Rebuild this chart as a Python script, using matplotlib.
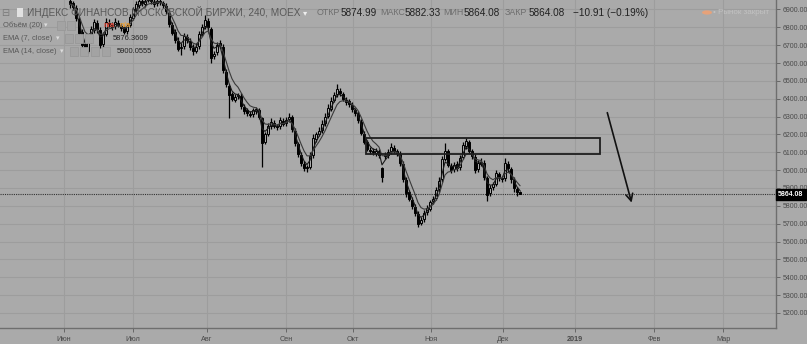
import numpy as np
import pandas as pd
import matplotlib
matplotlib.use("Agg")
import matplotlib.pyplot as plt
from matplotlib.patches import Rectangle, Circle

plt.rcParams['font.family'] = ['Liberation Sans', 'DejaVu Sans']

# ---------------- data (bars ~ one per trading day) ----------------
opens = [6950,6935,6910,6845,6775,6705,6670,6725,6785,6825,
         6785,6705,6765,6825,6815,6805,6825,6810,6800,6780,
         6815,6855,6895,6925,6950,6930,6955,6960,6940,6935,
         6945,6935,6920,6880,6815,6775,6725,6685,6695,6745,
         6725,6685,6670,6695,6765,6805,6835,6790,6640,6660,
         6710,6690,6550,6470,6425,6395,6415,6415,6355,6335,
         6315,6315,6330,6335,6290,6160,6205,6245,6265,6245,
         6245,6275,6265,6285,6295,6220,6145,6085,6035,6015,
         6020,6085,6175,6205,6225,6265,6305,6345,6395,6425,
         6445,6425,6395,6385,6365,6335,6315,6270,6205,6155,
         6115,6110,6095,6105,6010,6085,6085,6105,6125,6105,
         6090,6035,5945,5875,5835,5795,5755,5705,5725,5765,
         5785,5825,5845,5895,5950,6065,6105,6025,6005,6035,
         6015,6075,6135,6160,6105,6075,6005,6035,6040,5955,
         5870,5905,5925,5980,5955,5955,6035,6005,5945,5895,
         5874.99]
highs = [6975,6950,6925,6860,6790,6720,6740,6810,6845,6840,
         6800,6775,6850,6845,6830,6850,6840,6825,6815,6825,
         6875,6915,6945,6965,6970,6975,6990,6980,6960,6970,
         6965,6950,6935,6895,6830,6790,6745,6710,6770,6760,
         6740,6705,6710,6780,6820,6870,6850,6800,6670,6720,
         6730,6705,6565,6485,6440,6425,6435,6430,6370,6350,
         6330,6350,6355,6350,6300,6215,6265,6290,6280,6260,
         6300,6290,6300,6320,6310,6235,6160,6100,6050,6030,
         6100,6200,6215,6240,6280,6320,6370,6410,6440,6480,
         6460,6440,6410,6400,6380,6350,6330,6285,6220,6170,
         6130,6125,6125,6120,6020,6100,6120,6150,6140,6120,
         6105,6050,5960,5890,5850,5810,5770,5740,5775,5805,
         5835,5855,5905,5960,6080,6150,6120,6040,6045,6050,
         6085,6160,6180,6170,6120,6090,6055,6068,6055,5970,
         5915,5935,6000,5990,5970,6068,6050,6015,5960,5905,
         5882.33]
lows = [6910,6895,6835,6755,6685,6650,6655,6710,6770,6770,
        6685,6690,6750,6800,6785,6790,6800,6780,6765,6765,
        6800,6840,6880,6910,6920,6915,6940,6930,6915,6920,
        6925,6910,6875,6800,6755,6715,6665,6645,6680,6715,
        6675,6645,6655,6680,6750,6790,6785,6600,6620,6645,
        6685,6545,6465,6290,6385,6380,6400,6345,6315,6305,
        6295,6300,6315,6285,6020,6145,6190,6230,6235,6225,
        6230,6245,6250,6270,6215,6135,6075,6025,5995,5990,
        6005,6070,6160,6190,6210,6250,6290,6330,6380,6410,
        6415,6385,6365,6355,6325,6305,6265,6195,6145,6105,
        6090,6085,6080,6070,5935,6065,6070,6090,6095,6080,
        6025,5935,5850,5825,5785,5745,5683,5690,5710,5750,
        5770,5810,5830,5880,5935,6050,6015,5985,5990,5995,
        6000,6060,6120,6095,6065,5985,5990,6025,5945,5825,
        5855,5890,5910,5940,5935,5940,5990,5930,5880,5855,
        5864.08]
closes = [6930,6915,6850,6770,6700,6665,6720,6790,6830,6790,
          6700,6760,6830,6820,6800,6830,6815,6795,6775,6810,
          6860,6900,6930,6945,6935,6950,6965,6945,6930,6950,
          6940,6925,6890,6820,6770,6730,6680,6690,6750,6730,
          6690,6665,6690,6760,6800,6840,6800,6630,6650,6700,
          6700,6560,6480,6420,6400,6410,6420,6360,6330,6320,
          6310,6335,6340,6300,6150,6200,6250,6270,6250,6240,
          6280,6260,6280,6300,6230,6150,6090,6040,6010,6010,
          6080,6180,6200,6220,6260,6300,6350,6390,6420,6455,
          6430,6400,6380,6370,6340,6320,6280,6210,6160,6120,
          6105,6100,6110,6085,5960,6080,6100,6130,6110,6095,
          6040,5950,5870,5840,5800,5760,5700,5720,5760,5790,
          5820,5840,5890,5940,6060,6110,6030,6000,6030,6010,
          6070,6140,6165,6110,6080,6000,6040,6045,5960,5860,
          5900,5920,5985,5960,5950,6040,6010,5950,5900,5875,
          5864.08]

month_labels = ['Июн', 'Июл', 'Авг', 'Сен', 'Окт', 'Ноя', 'Дек', '2019', 'Фев', 'Мар']
month_pos = [-2.0, 21.0, 45.7, 72.0, 94.3, 120.3, 144.3, 168.3, 194.7, 217.7]
price_ticks = [5200, 5300, 5400, 5500, 5600, 5700, 5800, 5900,
               6000, 6100, 6200, 6300, 6400, 6500, 6600, 6700, 6800, 6900]

last_open, last_high, last_low, last_close = 5874.99, 5882.33, 5864.08, 5864.08
change, change_pct = -10.91, -0.19
ema7_last, ema14_last = 5876.3609, 5900.0555

zone_x = [98.7, 176.7]
zone_prices = [6092, 6178]
arrow_start = (179.1, 6322)
arrow_end = (187.2, 5818)

ema_fast_span = 3   # bars here are ~2.6x longer than the 240-min bars of the source
ema_slow_span = 6

# ---------------- figure ----------------
W, H = 807, 344
BG = '#aaaaaa'
GRID = '#9d9d9d'
TXT = '#4a4a4a'
fig = plt.figure(figsize=(W / 100, H / 100), dpi=100, facecolor=BG)
ax = fig.add_axes([0, 16 / H, 776 / W, 328 / H], facecolor=BG)

n = len(closes)
xs = np.arange(n)
o = np.array(opens); h = np.array(highs); l = np.array(lows); c = np.array(closes)

ax.vlines(xs, l, h, color='black', lw=0.9, zorder=3)
up = c >= o
bw = 0.66
ax.bar(xs[up], c[up] - o[up], bottom=o[up], width=bw, facecolor=BG,
       edgecolor='black', linewidth=0.7, zorder=4)
ax.bar(xs[~up], o[~up] - c[~up], bottom=c[~up], width=bw, facecolor='black',
       edgecolor='black', linewidth=0.7, zorder=4)

ema_fast = pd.Series(c).ewm(span=ema_fast_span, adjust=False).mean()
ema_slow = pd.Series(c).ewm(span=ema_slow_span, adjust=False).mean()
ax.plot(xs, ema_fast, color='#1a1a1a', lw=0.8, zorder=5)
ax.plot(xs, ema_slow, color='#3a3a3a', lw=0.8, zorder=5)

# zone rectangle and arrow
ax.add_patch(Rectangle((zone_x[0], zone_prices[0]), zone_x[1] - zone_x[0],
                       zone_prices[1] - zone_prices[0], fill=False,
                       edgecolor='#1e1e1e', lw=1.3, zorder=6))
ax.annotate('', xy=arrow_end, xytext=arrow_start,
            arrowprops=dict(arrowstyle='->,head_length=0.5,head_width=0.25',
                            color='#111111', lw=1.2, shrinkA=0, shrinkB=0),
            zorder=6)

# last price dotted line
ax.axhline(last_close, color='#333333', lw=0.8, ls=(0, (1, 1)), zorder=2)

ax.set_xlim(-23.33, 235.33)
ax.set_ylim(5115.7, 6953.2)

ax.set_yticks(price_ticks)
ax.set_yticklabels([f'{v:.2f}' for v in price_ticks])
ax.yaxis.tick_right()
ax.set_xticks(month_pos)
ax.set_xticklabels(month_labels)
for lab in ax.get_xticklabels():
    if lab.get_text() == '2019':
        lab.set_fontweight('bold')
ax.tick_params(axis='both', colors='#666666', labelcolor=TXT, labelsize=5.0,
               length=3, width=0.7)
ax.tick_params(axis='y', pad=1.5)
ax.tick_params(axis='x', pad=3, labelsize=5.2)
ax.grid(True, color=GRID, lw=0.8, zorder=0)
ax.set_axisbelow(True)
for s in ['top', 'left']:
    ax.spines[s].set_visible(False)
for s in ['right', 'bottom']:
    ax.spines[s].set_color('#6e6e6e')
    ax.spines[s].set_linewidth(1.0)

# last price label on the scale
ax.text(1.003, last_close, f'{last_close:.2f}', transform=ax.get_yaxis_transform(),
        ha='left', va='center', fontsize=5.0, color='white', fontweight='bold',
        bbox=dict(boxstyle='square,pad=0.3', facecolor='black', edgecolor='black'),
        zorder=10, clip_on=False)

# ---------------- header texts ----------------
def fx(x):
    return x / W

def fy(y):
    return 1 - y / H

def t(x, y, s, size, color, **kw):
    fig.text(fx(x), fy(y), s, fontsize=size, color=color, va='center', ha='left',
             zorder=20, **kw)

t(1.5, 12.5, '⊟', 7, '#7a7a7a', family=['DejaVu Sans'])
fig.add_artist(Rectangle((fx(16.5), fy(16.5)), 6.5 / W, 8 / H, transform=fig.transFigure,
                         facecolor='#e2e2e2', edgecolor='none', zorder=20))
t(27, 12.5, 'ИНДЕКС ФИНАНСОВ МОСКОВСКОЙ БИРЖИ, 240, MOEX', 7.2, '#595959')
t(303, 12.5, '▾', 6, '#eeeeee', family=['DejaVu Sans'])
hdr = [(317, 'ОТКР', '#6e6e6e', 6.4), (341, f'{last_open:.2f}', '#222222', 7.2),
       (380, 'МАКС', '#6e6e6e', 6.4), (405, f'{last_high:.2f}', '#222222', 7.2),
       (443, 'МИН', '#6e6e6e', 6.4), (464, f'{last_low:.2f}', '#222222', 7.2),
       (505, 'ЗАКР', '#6e6e6e', 6.4), (529, f'{last_close:.2f}', '#222222', 7.2),
       (573, f'\u2212{abs(change):.2f} (\u2212{abs(change_pct):.2f}%)', '#222222', 7.2)]
for x, s, col, sz in hdr:
    t(x, 12.5, s, sz, col)

# indicator rows
t(3, 25.5, 'Объём (20)', 5.4, '#575757')
t(44, 25.5, '▾', 5, '#dddddd', family=['DejaVu Sans'])
t(3, 38.5, 'EMA (7, close)', 5.4, '#575757')
t(56, 38.5, '▾', 5, '#dddddd', family=['DejaVu Sans'])
t(3, 51.5, 'EMA (14, close)', 5.4, '#575757')
t(60, 51.5, '▾', 5, '#dddddd', family=['DejaVu Sans'])
t(103, 25.5, 'n/a', 5.6, '#e04a3a', fontweight='bold')
t(120, 25.5, 'n/a', 5.6, '#f0a43a', fontweight='bold')
t(112.7, 38.5, f'{ema7_last:.4f}', 5.4, '#222222')
t(117, 51.5, f'{ema14_last:.4f}', 5.4, '#222222')

icon_rows = [(25.5, [57, 67]), (38.5, [65, 75, 85]), (51.5, [70, 80, 91, 102])]
for yy, xs_i in icon_rows:
    for xi in xs_i:
        fig.add_artist(Rectangle((fx(xi), fy(yy + 4)), 8 / W, 8 / H,
                                 transform=fig.transFigure, facecolor='#a3a3a3',
                                 edgecolor='#989898', lw=0.6, zorder=19))

# market status
fig.add_artist(Circle((fx(707), fy(12.5)), 5 / W, transform=fig.transFigure,
                      facecolor='#e6a27a', edgecolor='none', zorder=20))
t(713, 12.5, '• Рынок закрыт', 5.8, '#c2c2c2')

fig.savefig('out.png', dpi=100, facecolor=BG)
